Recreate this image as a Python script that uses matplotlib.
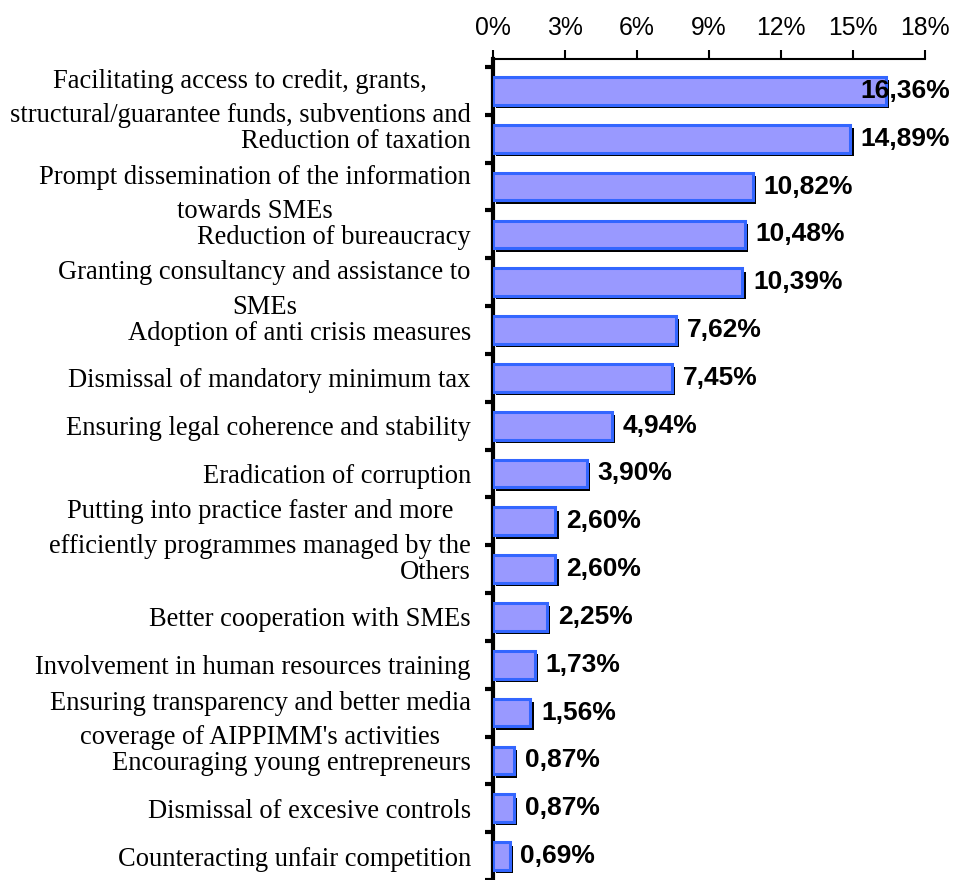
import matplotlib
matplotlib.use("Agg")
import matplotlib.pyplot as plt
import matplotlib.patheffects as pe
import numpy as np

# Categories (top to bottom) and their shares in percent
categories = [
    "Facilitating access to credit, grants,\nstructural/guarantee funds, subventions and",
    "Reduction of taxation",
    "Prompt dissemination of the information\ntowards SMEs",
    "Reduction of bureaucracy",
    "Granting consultancy and assistance to\nSMEs",
    "Adoption of anti crisis measures",
    "Dismissal of mandatory minimum tax",
    "Ensuring legal coherence and stability",
    "Eradication of corruption",
    "Putting into practice faster and more\nefficiently programmes managed by the",
    "Others",
    "Better cooperation with SMEs",
    "Involvement in human resources training",
    "Ensuring transparency and better media\ncoverage of AIPPIMM's activities",
    "Encouraging young entrepreneurs",
    "Dismissal of excesive controls",
    "Counteracting unfair competition",
]
values = [16.36, 14.89, 10.82, 10.48, 10.39, 7.62, 7.45, 4.94, 3.90,
          2.60, 2.60, 2.25, 1.73, 1.56, 0.87, 0.87, 0.69]
xticks = [0, 3, 6, 9, 12, 15, 18]

fig = plt.figure(figsize=(9.55, 8.8), dpi=100)
ax = fig.add_axes([493 / 955, 0.0, 432 / 955, 1 - 59 / 880])

y = np.arange(len(values))
bars = ax.barh(y, values, height=0.58, color="#9999FF", edgecolor="#3366FF",
               linewidth=2.2, zorder=3)
for b in bars:
    b.set_path_effects([pe.SimplePatchShadow(offset=(2.4, -2.4), shadow_rgbFace="black", alpha=1.0),
                        pe.Normal()])

# value labels, kept inside the figure on the right
for i, v in enumerate(values):
    xpos = min(v + 0.45, 15.3)
    ax.text(xpos, i, f"{v:.2f}".replace(".", ",") + "%", va="center", ha="left",
            fontsize=19, fontweight="bold", family="Liberation Sans", zorder=5)

ax.set_xlim(0, 18)
ax.set_ylim(16.44, -0.667)

ax.xaxis.tick_top()
ax.set_xticks(xticks)
ax.set_xticklabels([f"{t}%" for t in xticks], family="Liberation Sans", fontsize=17.8)
ax.tick_params(axis="x", direction="out", length=6.5, width=1.5, pad=7)

ax.set_yticks(y)
ax.set_yticklabels(categories, family="Liberation Serif", fontsize=19.1,
                   multialignment="center", linespacing=1.5)
ax.tick_params(axis="y", which="major", length=0, pad=16)
ax.set_yticks(np.arange(len(values) + 1) - 0.5, minor=True)
ax.tick_params(axis="y", which="minor", length=6, width=3, direction="out")

for s in ["right", "bottom"]:
    ax.spines[s].set_visible(False)
ax.spines["left"].set_linewidth(3)
ax.spines["top"].set_linewidth(1.5)

fig.savefig("out.png", dpi=100)
